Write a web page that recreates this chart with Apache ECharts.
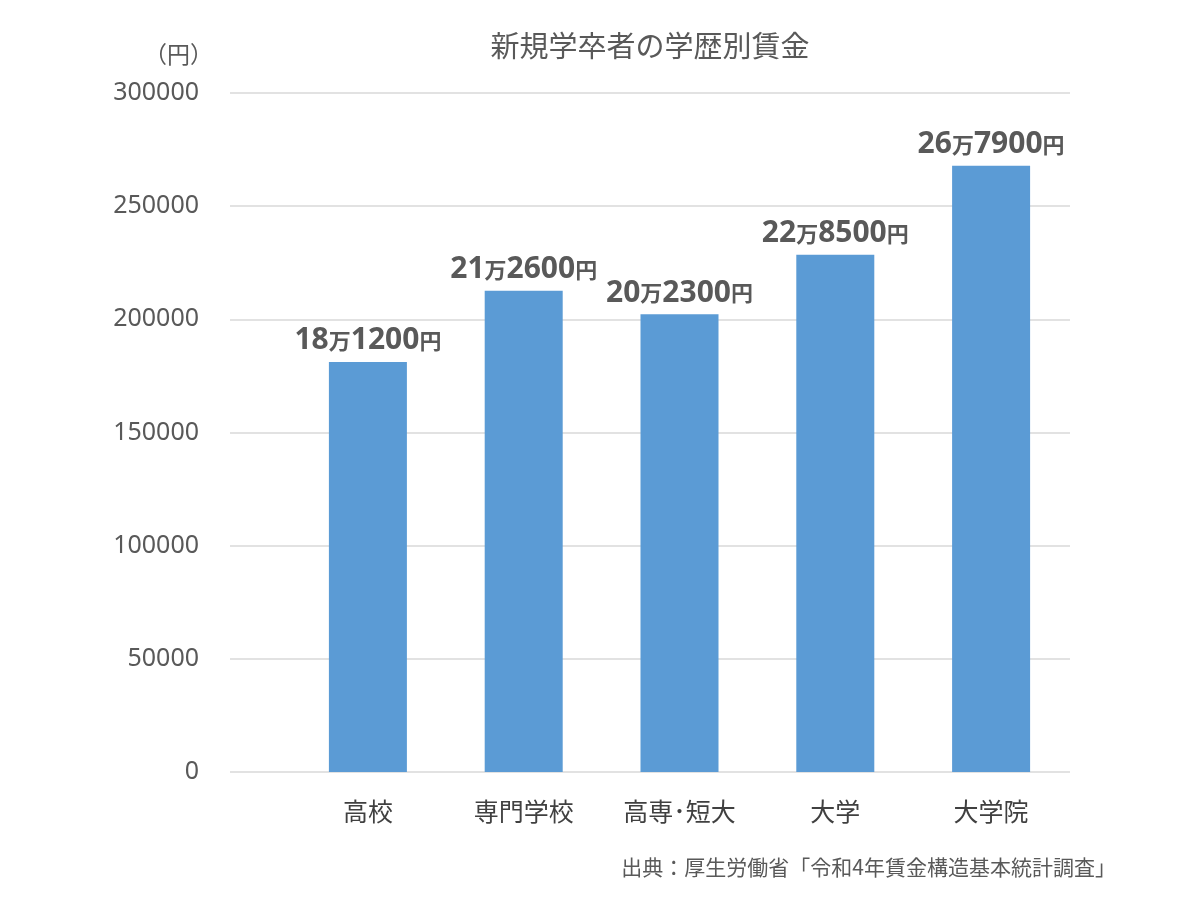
<!DOCTYPE html>
<html>
<head>
<meta charset="utf-8">
<script src="https://cdn.jsdelivr.net/npm/echarts@6/dist/echarts.min.js"></script>
<style>
  html, body { margin: 0; padding: 0; background: #fff; }
  #chart { width: 1200px; height: 900px; }
</style>
</head>
<body>
<div id="chart"></div>
<script>
// 学歴別の初任給（円）
var categories = ['高校', '専門学校', '高専･短大', '大学', '大学院'];
var wages = [181200, 212600, 202300, 228500, 267900];
var labelMan = ['18', '21', '20', '22', '26'];     // 万の前
var labelRest = ['1200', '2600', '2300', '8500', '7900']; // 万の後
var yTicks = [0, 50000, 100000, 150000, 200000, 250000, 300000];

var FONT = '"Noto Sans CJK JP", "Noto Sans", sans-serif';
var NUMFONT = '"Noto Sans", "Noto Sans CJK JP", sans-serif';
var chart = echarts.init(document.getElementById('chart'));

chart.setOption({
    backgroundColor: '#ffffff',
    animation: false,
    textStyle: { fontFamily: FONT },
    title: [
        {
            text: '新規学卒者の学歴別賃金',
            left: 645, top: 26, textAlign: 'center',
            textStyle: { fontSize: 29, fontWeight: 'normal', color: '#595959', fontFamily: FONT }
        },
        {
            text: '（円）',
            left: 139, top: 38,
            textStyle: { fontSize: 23, fontWeight: 'normal', color: '#595959', fontFamily: FONT }
        },
        {
            text: '出典：厚生労働省「令和4年賃金構造基本統計調査」',
            right: 79, top: 852,
            textStyle: { fontSize: 21, fontWeight: 'normal', color: '#595959', fontFamily: FONT }
        }
    ],
    grid: [
        // 目盛り線用（左に長い）
        { left: 230, top: 93, width: 840, height: 679 },
        // 棒グラフ用
        { left: 290, top: 93, width: 779, height: 679 }
    ],
    xAxis: [
        { type: 'value', gridIndex: 0, show: false, min: 0, max: 1 },
        {
            type: 'category', gridIndex: 1, data: categories,
            axisLine: { show: false }, axisTick: { show: false },
            axisLabel: { margin: 27, fontSize: 25, color: '#404040', fontFamily: FONT }
        }
    ],
    yAxis: [
        {
            type: 'value', gridIndex: 0,
            min: yTicks[0], max: yTicks[yTicks.length - 1], interval: yTicks[1] - yTicks[0],
            axisLine: { show: false }, axisTick: { show: false },
            axisLabel: {
                margin: 31, fontSize: 25, color: '#595959', fontFamily: NUMFONT,
                formatter: function (v) { return String(v); }
            },
            splitLine: { lineStyle: { color: '#d9d9d9', width: 1.5 } }
        },
        {
            type: 'value', gridIndex: 1,
            min: yTicks[0], max: yTicks[yTicks.length - 1], interval: yTicks[1] - yTicks[0],
            show: false, splitLine: { show: false }
        }
    ],
    series: [
        {
            type: 'bar',
            xAxisIndex: 1, yAxisIndex: 1,
            data: wages,
            barWidth: 78,
            itemStyle: { color: '#5b9bd5' },
            label: {
                show: true,
                position: 'top',
                distance: 6,
                formatter: function (p) {
                    var i = p.dataIndex;
                    return '{n|' + labelMan[i] + '}{k|万}{n|' + labelRest[i] + '}{k|円}';
                },
                rich: {
                    n: { fontSize: 30, fontWeight: 'bold', color: '#595959', fontFamily: NUMFONT },
                    k: { fontSize: 22, fontWeight: 'bold', color: '#595959', fontFamily: FONT }
                }
            }
        }
    ]
});
</script>
</body>
</html>
